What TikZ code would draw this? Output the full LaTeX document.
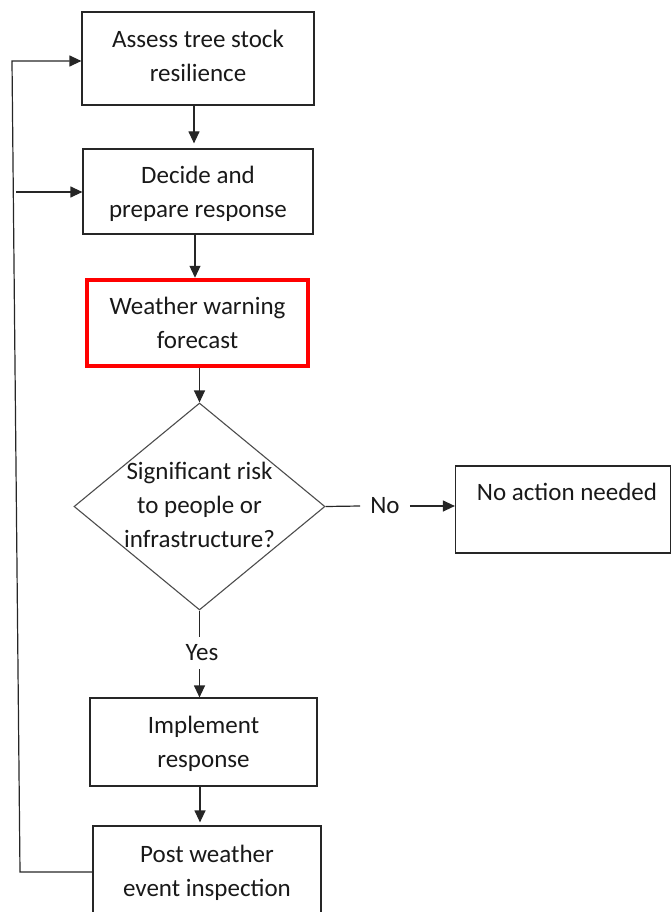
\documentclass[tikz,border=0pt]{standalone}
\usepackage{fontspec}
\setmainfont{Carlito}
\usetikzlibrary{arrows.meta,shapes.geometric}
\begin{document}
\begin{tikzpicture}[x=1pt,y=-1pt,
  every node/.style={font=\fontsize{25}{34}\selectfont, text=black!90},
  box/.style={draw=black!85, line width=1.2pt, rectangle, inner sep=0pt, align=center},
  redbox/.style={draw=red, line width=4.5pt, rectangle, inner sep=0pt, align=center},
  dia/.style={draw=black!70, line width=1.1pt, diamond, inner sep=0pt},
  lbl/.style={inner sep=1pt, align=center},
  conn/.style={draw=black!85, line width=1.2pt},
  arr/.style={conn, -{Triangle[length=12pt,width=11pt]}}
]
\useasboundingbox (0,0) rectangle (670,912);
\node[box, minimum width=232pt, minimum height=93pt, text depth=6pt] (b1) at (198,58.5) {Assess tree stock\\resilience};
\node[box, minimum width=230pt, minimum height=85pt, text depth=-0.7pt] (b2) at (198,191.5) {Decide and\\prepare response};
\node[redbox, minimum width=221pt, minimum height=86pt, text depth=-4pt] (wf) at (197.5,323) {Weather warning\\forecast};
\node[dia, minimum width=251pt, minimum height=207pt] (d) at (199.5,506.5) {};
\node[lbl] (dt) at (199.5,505) {Significant risk\\to people or\\infrastructure?};
\node[box, minimum width=215pt, minimum height=87pt] (na) at (563,509.5) {};
\node[lbl] (nat) at (567,492) {No action needed};
\node[lbl, inner xsep=10pt] (no) at (385,506) {No};
\node[lbl, inner ysep=8pt] (yes) at (202,653) {Yes};
\node[box, minimum width=227pt, minimum height=88pt, text depth=-2.7pt] (im) at (203.5,742) {Implement\\response};
\node[box, minimum width=228pt, minimum height=90pt, text depth=0.3pt] (pw) at (207,871) {Post weather\\event inspection};

\coordinate (lt) at (12,61);
\coordinate (lb) at (20,872);
\coordinate (br) at (16,192);

\draw[arr, shorten >=5pt] ([xshift=-4pt]b1.south) -- ([xshift=-4pt]b1.south |- b2.north);
\draw[arr] ([xshift=-3pt]b2.south) -- ([xshift=-3pt]b2.south |- wf.north);
\draw[arr] (wf.south -| d.north) -- (d.north);
\draw[conn] (d.east) -- (no.west);
\draw[arr] (no.east) -- (na.west |- no.east);
\draw[conn] (d.south) -- (d.south |- yes.north);
\draw[arr] (d.south |- yes.south) -- (d.south |- im.north);
\draw[arr, shorten >=3pt] ([xshift=-3.5pt]im.south) -- ([xshift=-3.5pt]im.south |- pw.north);
\draw[arr] (pw.west |- lb) -- (lb) -- (lt) -- (b1.west |- lt);
\draw[arr] (br) -- (b2.west |- br);
\end{tikzpicture}
\end{document}
